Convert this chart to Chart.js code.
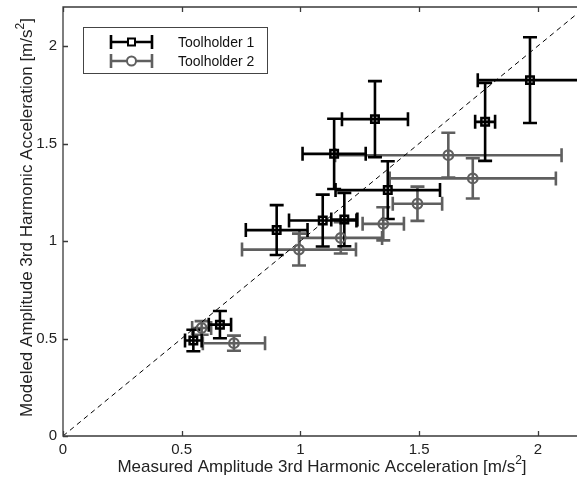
<!DOCTYPE html>
<html>
<head>
<meta charset="utf-8">
<script src="https://cdn.jsdelivr.net/npm/chart.js@4.4.1/dist/chart.umd.min.js"></script>
<style>
  html, body { margin: 0; padding: 0; background: #fff; }
  #wrap { width: 577px; height: 488px; }
</style>
</head>
<body>
<div id="wrap"><canvas id="accChart" width="577" height="488"></canvas></div>
<script>
// Toolholder 1: modeled vs measured 3rd harmonic amplitude, with error bars
const t1Measured = [1.967, 1.778, 1.314, 1.142, 1.368, 1.094, 1.185, 0.900, 0.661, 0.549];
const t1Modeled = [1.825, 1.611, 1.625, 1.447, 1.261, 1.105, 1.110, 1.056, 0.571, 0.490];
const t1MeasuredErr = [0.22, 0.042, 0.139, 0.133, 0.22, 0.142, 0.055, 0.13, 0.047, 0.035];
const t1ModeledErr = [0.22, 0.20, 0.195, 0.18, 0.148, 0.133, 0.137, 0.128, 0.07, 0.055];

// Toolholder 2
const t2Measured = [1.623, 1.726, 1.493, 1.349, 1.170, 0.994, 0.720, 0.584];
const t2Modeled = [1.440, 1.321, 1.191, 1.088, 1.016, 0.956, 0.476, 0.554];
const t2MeasuredErr = [0.477, 0.35, 0.104, 0.087, 0.174, 0.24, 0.131, 0.04];
const t2ModeledErr = [0.115, 0.103, 0.088, 0.085, 0.08, 0.082, 0.039, 0.035];

const xTicks = [0, 0.5, 1, 1.5, 2];
const yTicks = [0, 0.5, 1, 1.5, 2];
const seriesNames = ['Toolholder 1', 'Toolholder 2'];

const BLACK = '#000000';
const GRAY = '#5f5f5f';
const AXIS = '#3a3a3a';
const FONT = '"Liberation Sans", Arial, sans-serif';
const CAP = 7;

function toPoints(xs, ys) {
  return xs.map((x, i) => ({ x, y: ys[i] }));
}

function drawErrorBars(ctx, xScale, yScale, xs, ys, xe, ye, color) {
  ctx.save();
  ctx.strokeStyle = color;
  ctx.lineWidth = 2.6;
  ctx.lineCap = 'butt';
  for (let i = 0; i < xs.length; i++) {
    const px = xScale.getPixelForValue(xs[i]);
    const py = yScale.getPixelForValue(ys[i]);
    const x0 = xScale.getPixelForValue(xs[i] - xe[i]);
    const x1 = xScale.getPixelForValue(xs[i] + xe[i]);
    const y0 = yScale.getPixelForValue(ys[i] - ye[i]);
    const y1 = yScale.getPixelForValue(ys[i] + ye[i]);
    ctx.beginPath();
    ctx.moveTo(x0, py); ctx.lineTo(x1, py);
    ctx.moveTo(x0, py - CAP); ctx.lineTo(x0, py + CAP);
    ctx.moveTo(x1, py - CAP); ctx.lineTo(x1, py + CAP);
    ctx.moveTo(px, y0); ctx.lineTo(px, y1);
    ctx.moveTo(px - CAP, y0); ctx.lineTo(px + CAP, y0);
    ctx.moveTo(px - CAP, y1); ctx.lineTo(px + CAP, y1);
    ctx.stroke();
  }
  ctx.restore();
}

const errorBarPlugin = {
  id: 'errorBars',
  beforeDatasetsDraw(chart) {
    const { ctx, scales } = chart;
    drawErrorBars(ctx, scales.x, scales.y, t2Measured, t2Modeled, t2MeasuredErr, t2ModeledErr, GRAY);
    drawErrorBars(ctx, scales.x, scales.y, t1Measured, t1Modeled, t1MeasuredErr, t1ModeledErr, BLACK);
  }
};

// text with a raised "2" for the m/s^2 unit
function drawUnitLabel(ctx, main, tail, x, y, size) {
  ctx.font = size + 'px ' + FONT;
  const supFont = Math.round(size * 0.68) + 'px ' + FONT;
  const wMain = ctx.measureText(main).width;
  ctx.font = supFont;
  const wSup = ctx.measureText('2').width;
  ctx.font = size + 'px ' + FONT;
  const wTail = ctx.measureText(tail).width;
  let cx = x - (wMain + wSup + wTail) / 2;
  ctx.textAlign = 'left';
  ctx.textBaseline = 'alphabetic';
  ctx.fillText(main, cx, y);
  cx += wMain;
  ctx.font = supFont;
  ctx.fillText('2', cx, y - size * 0.45);
  cx += wSup;
  ctx.font = size + 'px ' + FONT;
  ctx.fillText(tail, cx, y);
}

const framePlugin = {
  id: 'frame',
  afterDraw(chart) {
    const { ctx, chartArea: a, scales } = chart;
    ctx.save();
    ctx.strokeStyle = AXIS;
    ctx.lineWidth = 1.3;
    ctx.beginPath();
    ctx.moveTo(a.right, a.top); ctx.lineTo(a.left, a.top);
    ctx.lineTo(a.left, a.bottom); ctx.lineTo(a.right, a.bottom);
    // inward tick marks on the bottom, top and left edges
    xTicks.forEach(v => {
      const px = Math.round(scales.x.getPixelForValue(v)) + 0.5;
      ctx.moveTo(px, a.bottom); ctx.lineTo(px, a.bottom - 5);
      ctx.moveTo(px, a.top); ctx.lineTo(px, a.top + 5);
    });
    yTicks.forEach(v => {
      const py = Math.round(scales.y.getPixelForValue(v)) + 0.5;
      ctx.moveTo(a.left, py); ctx.lineTo(a.left + 5, py);
    });
    ctx.stroke();

    // legend
    const lx = 83, ly = 27, lw = 184, lh = 46;
    ctx.fillStyle = '#fff';
    ctx.fillRect(lx, ly, lw, lh);
    ctx.strokeStyle = '#444';
    ctx.lineWidth = 1;
    ctx.strokeRect(lx + 0.5, ly + 0.5, lw, lh);
    const rows = [
      { name: seriesNames[0], color: BLACK, y: 42, style: 'rect' },
      { name: seriesNames[1], color: GRAY, y: 61, style: 'circle' }
    ];
    rows.forEach(r => {
      ctx.strokeStyle = r.color;
      ctx.lineWidth = 2.6;
      ctx.beginPath();
      ctx.moveTo(111, r.y); ctx.lineTo(152, r.y);
      ctx.moveTo(111, r.y - CAP); ctx.lineTo(111, r.y + CAP);
      ctx.moveTo(152, r.y - CAP); ctx.lineTo(152, r.y + CAP);
      ctx.stroke();
      ctx.lineWidth = 2;
      ctx.beginPath();
      if (r.style === 'rect') {
        ctx.fillStyle = '#fff';
        ctx.fillRect(128, r.y - 3.5, 7, 7);
        ctx.strokeRect(128, r.y - 3.5, 7, 7);
      } else {
        ctx.fillStyle = '#fff';
        ctx.arc(131.5, r.y, 4.5, 0, Math.PI * 2);
        ctx.fill();
        ctx.stroke();
      }
      ctx.fillStyle = '#111';
      ctx.font = '14px ' + FONT;
      ctx.textAlign = 'left';
      ctx.textBaseline = 'middle';
      ctx.fillText(r.name, 178, r.y + 1);
    });

    // axis titles
    ctx.fillStyle = '#222';
    drawUnitLabel(ctx, 'Measured Amplitude 3rd Harmonic Acceleration [m/s', ']',
      322, 472, 17);
    ctx.translate(32, (a.top + a.bottom) / 2 - 4);
    ctx.rotate(-Math.PI / 2);
    drawUnitLabel(ctx, 'Modeled Amplitude 3rd Harmonic Acceleration [m/s', ']', 0, 0, 17);
    ctx.restore();
  }
};

const tickFont = { family: FONT, size: 15 };

new Chart(document.getElementById('accChart'), {
  type: 'scatter',
  data: {
    datasets: [
      {
        label: seriesNames[0],
        data: toPoints(t1Measured, t1Modeled),
        pointStyle: 'rect',
        pointRadius: 5.3,
        borderWidth: 2.5,
        borderColor: BLACK,
        backgroundColor: 'rgba(0,0,0,0)'
      },
      {
        label: seriesNames[1],
        data: toPoints(t2Measured, t2Modeled),
        pointStyle: 'circle',
        pointRadius: 4.8,
        borderWidth: 2.2,
        borderColor: GRAY,
        backgroundColor: 'rgba(0,0,0,0)'
      },
      {
        label: 'y = x',
        data: [{ x: 0, y: 0 }, { x: 2.2, y: 2.2 }],
        showLine: true,
        borderColor: BLACK,
        borderWidth: 1,
        borderDash: [5, 4],
        pointRadius: 0
      }
    ]
  },
  options: {
    responsive: false,
    animation: false,
    events: [],
    layout: { autoPadding: false, padding: { top: 7, right: 0, bottom: 0, left: 0 } },
    plugins: { legend: { display: false }, tooltip: { enabled: false } },
    scales: {
      x: {
        type: 'linear',
        min: 0,
        max: 2.165,
        grid: { display: false, drawTicks: false },
        border: { display: false },
        ticks: { font: tickFont, color: '#222', padding: 5, maxRotation: 0, callback: v => String(v) },
        afterBuildTicks: s => { s.ticks = xTicks.map(v => ({ value: v })); },
        afterFit: s => { s.height = 52; s.paddingLeft = 0; s.paddingRight = 0; }
      },
      y: {
        type: 'linear',
        min: 0,
        max: 2.2,
        grid: { display: false, drawTicks: false },
        border: { display: false },
        ticks: { font: tickFont, color: '#222', padding: 6, callback: v => String(v) },
        afterBuildTicks: s => { s.ticks = yTicks.map(v => ({ value: v })); },
        afterFit: s => { s.width = 63; s.paddingTop = 0; s.paddingBottom = 0; }
      }
    }
  },
  plugins: [errorBarPlugin, framePlugin]
});
</script>
</body>
</html>
